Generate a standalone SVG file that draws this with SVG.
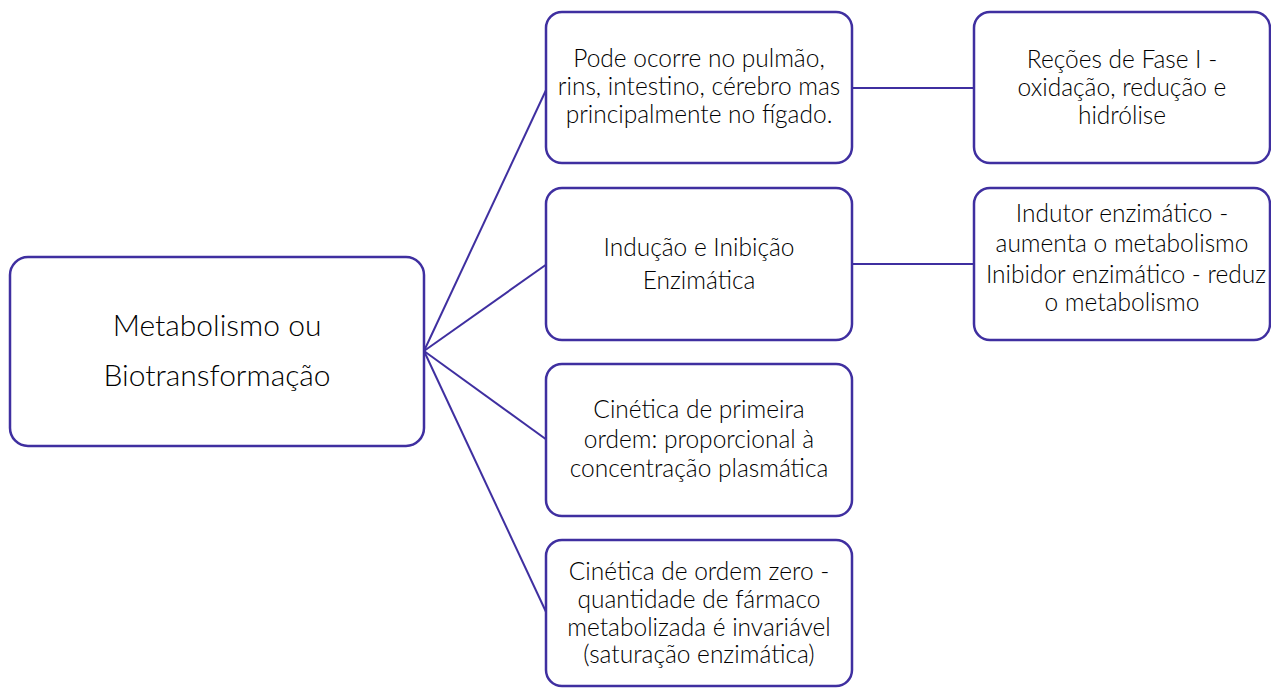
<svg xmlns="http://www.w3.org/2000/svg" width="1271" height="688" viewBox="0 0 1271 688">
<style>
.box{fill:#fff;stroke:#3f2fa0;stroke-width:2.5}
.conn{fill:none;stroke:#3f2fa0;stroke-width:2}
text{font-family:Lato,"Noto Sans",sans-serif;font-weight:300;fill:#000;text-anchor:middle}
.t{font-size:24.5px}
.r{font-size:30px}
</style>
<rect width="1271" height="688" fill="#fff"/>
<g id="connectors">
<line class="conn" x1="424" y1="351" x2="547" y2="88"/>
<line class="conn" x1="424" y1="351" x2="547" y2="264"/>
<line class="conn" x1="424" y1="351" x2="547" y2="440"/>
<line class="conn" x1="424" y1="351" x2="547" y2="614"/>
<line class="conn" x1="852" y1="88" x2="975" y2="88"/>
<line class="conn" x1="852" y1="264" x2="975" y2="264"/>
</g>
<g id="root">
<rect class="box" x="10" y="257" width="414" height="189" rx="18"/>
<text class="r" x="217" y="336">Metabolismo ou</text>
<text class="r" x="217" y="386">Biotransformação</text>
</g>
<g id="n1">
<rect class="box" x="546" y="12" width="306" height="151" rx="16"/>
<text class="t" x="699" y="67">Pode ocorre no pulmão,</text>
<text class="t" x="699" y="95">rins, intestino, cérebro mas</text>
<text class="t" x="699" y="123">principalmente no fígado.</text>
</g>
<g id="n2">
<rect class="box" x="546" y="188" width="306" height="152" rx="16"/>
<text class="t" x="699" y="256">Indução e Inibição</text>
<text class="t" x="699" y="289">Enzimática</text>
</g>
<g id="n3">
<rect class="box" x="546" y="364" width="306" height="152" rx="16"/>
<text class="t" x="699" y="418">Cinética de primeira</text>
<text class="t" x="699" y="448">ordem: proporcional à</text>
<text class="t" x="699" y="477">concentração plasmática</text>
</g>
<g id="n4">
<rect class="box" x="546" y="540" width="306" height="146" rx="16"/>
<text class="t" x="699" y="580">Cinética de ordem zero -</text>
<text class="t" x="699" y="608">quantidade de fármaco</text>
<text class="t" x="699" y="636">metabolizada é invariável</text>
<text class="t" x="699" y="663">(saturação enzimática)</text>
</g>
<g id="r1">
<rect class="box" x="974" y="12" width="296" height="151" rx="16"/>
<text class="t" x="1122" y="68">Reções de Fase I -</text>
<text class="t" x="1122" y="96">oxidação, redução e</text>
<text class="t" x="1122" y="124">hidrólise</text>
</g>
<g id="r2">
<rect class="box" x="974" y="188" width="296" height="152" rx="16"/>
<text class="t" x="1122" y="222">Indutor enzimático -</text>
<text class="t" x="1122" y="252">aumenta o metabolismo</text>
<text class="t" x="1126" y="283">Inibidor enzimático - reduz</text>
<text class="t" x="1122" y="311">o metabolismo</text>
</g>
</svg>
